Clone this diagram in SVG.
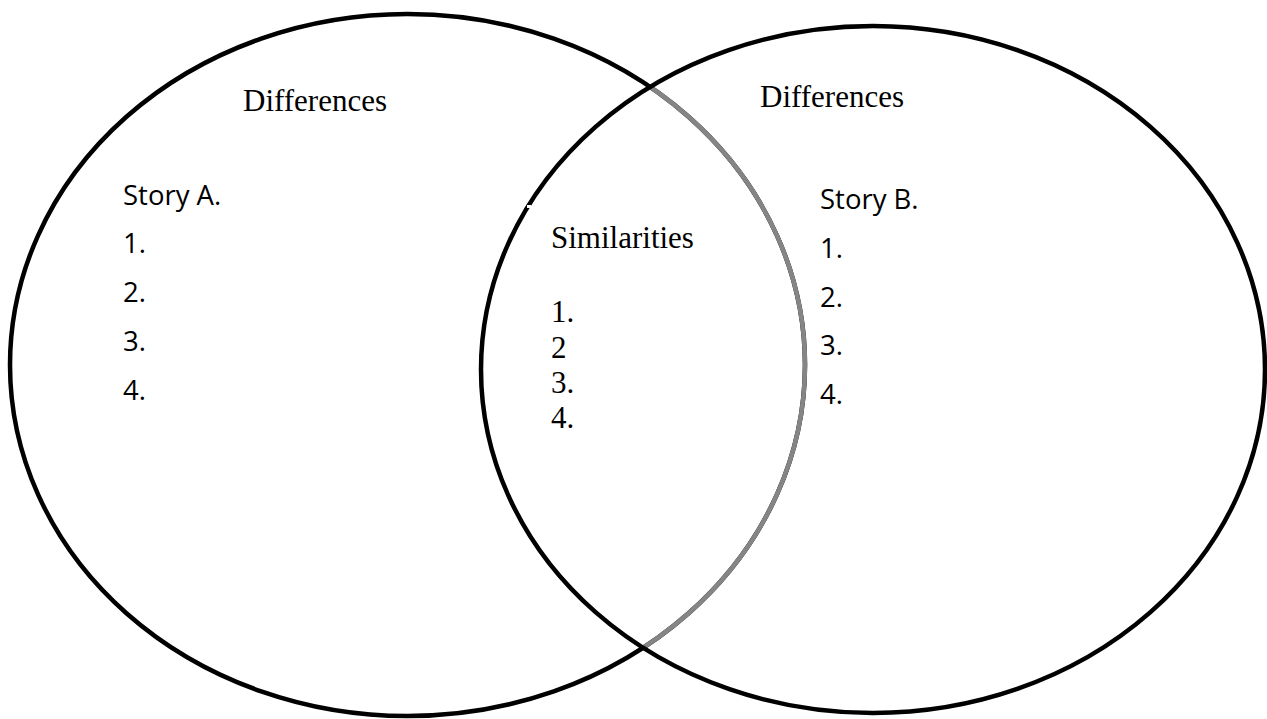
<svg xmlns="http://www.w3.org/2000/svg" width="1267" height="719" viewBox="0 0 1267 719">
  <style>
    .ring { fill: none; stroke: #000; stroke-width: 4.5; }
    .grey { fill: none; stroke: #858585; stroke-width: 4.5; }
    .serif { font-family: "Liberation Serif", "Times New Roman", serif; font-size: 31px; fill: #000; }
    .sans { font-family: "Open Sans", "Noto Sans", sans-serif; font-size: 27.5px; fill: #000; }
  </style>
  <defs>
    <clipPath id="insideB">
      <ellipse cx="873" cy="369.5" rx="392" ry="343.5"/>
    </clipPath>
  </defs>
  <rect width="1267" height="719" fill="#fff"/>
  <g id="connectors"></g>
  <g id="circleA">
    <ellipse class="ring" cx="407.5" cy="365" rx="397.5" ry="351"/>
    <ellipse class="grey" cx="407.5" cy="365" rx="397.5" ry="351" clip-path="url(#insideB)"/>
    <text class="serif" x="243" y="111">Differences</text>
    <text class="sans" x="123" y="205">Story A.</text>
    <text class="sans" x="123" y="253">1.</text>
    <text class="sans" x="123" y="302">2.</text>
    <text class="sans" x="123" y="351">3.</text>
    <text class="sans" x="123" y="400">4.</text>
  </g>
  <g id="circleB">
    <ellipse class="ring" cx="873" cy="369.5" rx="392" ry="343.5"/>
    <rect x="527" y="205" width="4" height="3" fill="#fff"/>
    <text class="serif" x="760" y="107">Differences</text>
    <text class="sans" x="820" y="209">Story B.</text>
    <text class="sans" x="820" y="258">1.</text>
    <text class="sans" x="820" y="307">2.</text>
    <text class="sans" x="820" y="355">3.</text>
    <text class="sans" x="820" y="404">4.</text>
  </g>
  <g id="overlap">
    <text class="serif" x="551" y="248">Similarities</text>
    <text class="serif" x="551" y="322">1.</text>
    <text class="serif" x="551" y="358">2</text>
    <text class="serif" x="551" y="393">3.</text>
    <text class="serif" x="551" y="428">4.</text>
  </g>
</svg>
